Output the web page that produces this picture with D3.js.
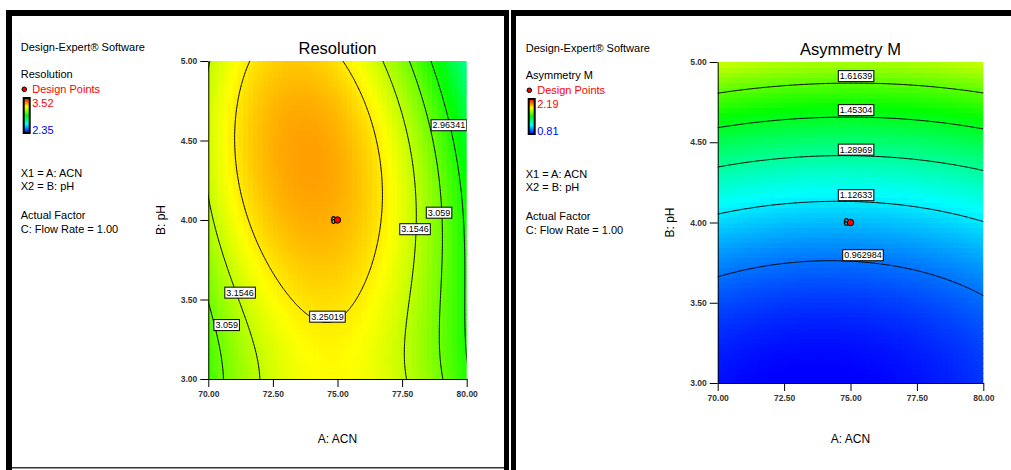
<!DOCTYPE html>
<html>
<head>
<meta charset="utf-8">
<script src="https://cdn.jsdelivr.net/npm/d3@7"></script>
<style>
body { margin: 0; background: #fff; }
text { font-family: Arial, "Liberation Sans", sans-serif; }
</style>
</head>
<body>
<div id="chart"></div>
<script>
// factor ranges / ticks
var acnTicks = [70, 72.5, 75, 77.5, 80];
var phTicks = [3, 3.5, 4, 4.5, 5];

// Resolution (coded u = (A-75)/5, v = pH-4)
var resLevels = [2.96341, 3.059, 3.1546, 3.25019];
var resRange = [2.35, 3.52];
var resPeakV = 0.375;                                   // v of the optimum
var resRidge = [3.338, 0, -0.1275, -0.0140, 0.0276];    // ridge value, powers of (v - resPeakV)
var resShift = [-0.176, -0.1428];                       // u of the ridge vs v
var resCurve = [0.27, 0.03];                            // curvature in u vs v
var resLabelText = ["2.96341", "3.059", "3.1546", "3.25019", "3.1546", "3.059"];
var resLabelA = [79.31, 78.93, 78.0, 74.61, 71.23, 70.71];
var resLabelPH = [4.597, 4.047, 3.943, 3.393, 3.544, 3.34];

// Asymmetry M
var asymLevels = [0.962984, 1.12633, 1.28969, 1.45304, 1.61639];
var asymRange = [0.81, 2.19];
var asymCoef = [1.0624, 0.0115, 0.461, -0.015, 0.05, 0.2036]; // b0, u, v, uv, u2, v2
var asymLabelText = ["0.962984", "1.12633", "1.28969", "1.45304", "1.61639"];
var asymLabelA = [75.47, 75.21, 75.21, 75.21, 75.21];
var asymLabelPH = [3.797, 4.171, 4.455, 4.701, 4.913];

// design points
var designA = [75], designPH = [4], designCount = ["6"];

var svg = d3.select("#chart").append("svg").attr("width", 1011).attr("height", 470);

function resModel(A, pH) {
  var u = (A - 75) / 5, v = pH - 4, w = v - resPeakV;
  var peak = 0;
  resRidge.forEach(function(c, k) { peak += c * Math.pow(w, k); });
  var u0 = resShift[0] + resShift[1] * v;
  var a = resCurve[0] + resCurve[1] * v;
  return peak - a * (u - u0) * (u - u0);
}
function asymModel(A, pH) {
  var u = (A - 75) / 5, v = pH - 4, c = asymCoef;
  return c[0] + c[1] * u + c[2] * v + c[3] * u * v + c[4] * u * u + c[5] * v * v;
}

function ramp(lo, hi) {
  var stops = ["#0000ff", "#00ffff", "#00ff00", "#ffff00", "#ff0000"];
  return d3.scaleLinear()
    .domain(stops.map(function(d, i) { return lo + (hi - lo) * i / 4; }))
    .range(stops).clamp(true);
}

// panel frames
svg.append("rect").attr("x", 6).attr("y", 10).attr("width", 503).attr("height", 6).attr("fill", "#000");
svg.append("rect").attr("x", 6).attr("y", 10).attr("width", 6).attr("height", 460).attr("fill", "#000");
svg.append("rect").attr("x", 504).attr("y", 10).attr("width", 5).attr("height", 460).attr("fill", "#000");
svg.append("line").attr("x1", 12).attr("x2", 504).attr("y1", 467.8).attr("y2", 467.8).attr("stroke", "#333").attr("stroke-width", 1.5);
svg.append("rect").attr("x", 511).attr("y", 10).attr("width", 500).attr("height", 6).attr("fill", "#000");
svg.append("rect").attr("x", 511).attr("y", 10).attr("width", 5).attr("height", 460).attr("fill", "#000");

function drawPanel(p) {
  var x = d3.scaleLinear().domain([70, 80]).range(p.xr);
  var y = d3.scaleLinear().domain([3, 5]).range(p.yr);
  var color = ramp(p.range[0], p.range[1]);
  var clipId = "clip-" + p.id;

  svg.append("clipPath").attr("id", clipId).append("rect")
    .attr("x", p.xr[0]).attr("y", p.yr[1])
    .attr("width", p.xr[1] - p.xr[0]).attr("height", p.yr[0] - p.yr[1]);

  var g = svg.append("g").attr("clip-path", "url(#" + clipId + ")");

  // coloured cells
  var nx = 52, ny = 64, dA = 10 / nx, dP = 2 / ny, cells = [];
  for (var j = 0; j < ny; j++) for (var i = 0; i < nx; i++) cells.push([i, j]);
  g.append("g").selectAll("rect").data(cells).enter().append("rect")
    .attr("x", function(d) { return x(70 + d[0] * dA); })
    .attr("y", function(d) { return y(3 + (d[1] + 1) * dP); })
    .attr("width", x(70 + dA) - x(70) + 0.7)
    .attr("height", y(3) - y(3 + dP) + 0.7)
    .attr("shape-rendering", "crispEdges")
    .attr("fill", function(d) { return color(p.model(70 + (d[0] + 0.5) * dA, 3 + (d[1] + 0.5) * dP)); });

  // contour lines (grid a bit larger than the plot, then clipped)
  var gx = 240, gy = 240, A0 = 69.5, P0 = 2.9, sA = 11 / (gx - 1), sP = 2.2 / (gy - 1);
  var vals = new Array(gx * gy);
  for (var jj = 0; jj < gy; jj++)
    for (var ii = 0; ii < gx; ii++)
      vals[jj * gx + ii] = p.model(A0 + ii * sA, P0 + jj * sP);
  var contours = d3.contours().size([gx, gy]).thresholds(p.levels)(vals);
  var proj = d3.geoTransform({ point: function(px, py) {
    this.stream.point(x(A0 + (px - 0.5) * sA), y(P0 + (py - 0.5) * sP));
  }});
  g.append("g").selectAll("path").data(contours).enter().append("path")
    .attr("d", d3.geoPath(proj))
    .attr("fill", "none").attr("stroke", "#000").attr("stroke-width", 1);

  // contour labels
  var lab = g.append("g").selectAll("g").data(p.labText).enter().append("g")
    .attr("transform", function(d, i) { return "translate(" + x(p.labA[i]) + "," + y(p.labPH[i]) + ")"; });
  lab.append("text").text(function(d) { return d; })
    .attr("text-anchor", "middle").attr("dy", "0.35em")
    .style("font-size", "9px").attr("fill", "#000");
  lab.each(function() {
    var b = d3.select(this).select("text").node().getBBox();
    d3.select(this).insert("rect", "text")
      .attr("x", b.x - 1.5).attr("y", b.y - 0.5)
      .attr("width", b.width + 3).attr("height", b.height + 1)
      .attr("fill", "#fff").attr("stroke", "#000").attr("stroke-width", 1);
  });

  // design points
  svg.append("g").selectAll("text").data(designA).enter().append("text")
    .attr("x", function(d) { return x(d) - 1.5; })
    .attr("y", function(d, i) { return y(designPH[i]); })
    .attr("dy", "0.35em").attr("text-anchor", "end")
    .style("font-size", "10px").style("font-weight", "bold")
    .text(function(d, i) { return designCount[i]; });
  svg.append("g").selectAll("circle").data(designA).enter().append("circle")
    .attr("cx", function(d) { return x(d); })
    .attr("cy", function(d, i) { return y(designPH[i]); })
    .attr("r", 3.2).attr("fill", "#ff0000").attr("stroke", "#000").attr("stroke-width", 1);

  // axes
  var ax = svg.append("g").attr("transform", "translate(0," + p.yr[0] + ")")
    .call(d3.axisBottom(x).tickValues(acnTicks).tickFormat(d3.format(".2f"))
      .tickSize(8).tickSizeOuter(0).tickPadding(4));
  var ay = svg.append("g").attr("transform", "translate(" + p.xr[0] + ",0)")
    .call(d3.axisLeft(y).tickValues(phTicks).tickFormat(d3.format(".2f"))
      .tickSize(8).tickSizeOuter(0).tickPadding(3));
  [ax, ay].forEach(function(a) {
    a.attr("font-family", "Arial, 'Liberation Sans', sans-serif").attr("font-size", 8.5);
    a.selectAll("text").attr("fill", "#333").style("font-weight", "bold");
    a.select(".domain").attr("stroke", "#000");
  });

  // titles
  var cx = (p.xr[0] + p.xr[1]) / 2;
  svg.append("text").attr("x", cx).attr("y", p.titleY).attr("text-anchor", "middle")
    .style("font-size", "16.5px").text(p.title);
  svg.append("text").attr("x", cx).attr("y", 443).attr("text-anchor", "middle")
    .style("font-size", "12px").text("A: ACN");
  svg.append("text").attr("transform", "translate(" + p.yLabX + "," + ((p.yr[0] + p.yr[1]) / 2) + ") rotate(-90)")
    .attr("text-anchor", "middle").style("font-size", "12px").text("B: pH");

  // legend
  var L = svg.append("g").attr("transform", "translate(" + p.lx + "," + p.ly + ")").style("font-size", "11px");
  L.append("text").attr("y", 51).text("Design-Expert® Software");
  L.append("text").attr("y", 78).text(p.response);
  L.append("circle").attr("cx", 3.6).attr("cy", 89.3).attr("r", 2.3)
    .attr("fill", "#ff0000").attr("stroke", "#000").attr("stroke-width", 1);
  L.append("text").attr("x", 11.5).attr("y", 93).attr("fill", "#ff0000").text("Design Points");
  var gid = "grad-" + p.id;
  var grad = svg.append("defs").append("linearGradient").attr("id", gid)
    .attr("x1", 0).attr("y1", 1).attr("x2", 0).attr("y2", 0);
  color.domain().forEach(function(v, i) {
    grad.append("stop").attr("offset", (i / 4 * 100) + "%").attr("stop-color", color.range()[i]);
  });
  L.append("rect").attr("x", 3).attr("y", 98).attr("width", 6).attr("height", 35)
    .attr("fill", "url(#" + gid + ")").attr("stroke", "#000").attr("stroke-width", 2);
  L.append("text").attr("x", 11.5).attr("y", 106.5).attr("fill", "#ff0000").text(p.range[1].toFixed(2));
  L.append("text").attr("x", 11.5).attr("y", 134).attr("fill", "#0000ff").text(p.range[0].toFixed(2));
  L.append("text").attr("y", 177).text("X1 = A: ACN");
  L.append("text").attr("y", 190).text("X2 = B: pH");
  L.append("text").attr("y", 219).text("Actual Factor");
  L.append("text").attr("y", 233).text("C: Flow Rate = 1.00");
}

drawPanel({
  id: "res", xr: [208.3, 466.7], yr: [379, 61], title: "Resolution", titleY: 54,
  response: "Resolution", range: resRange, levels: resLevels, model: resModel,
  labText: resLabelText, labA: resLabelA, labPH: resLabelPH,
  yLabX: 165, lx: 20.7, ly: 0
});
drawPanel({
  id: "asym", xr: [717.7, 983.3], yr: [383, 62], title: "Asymmetry M", titleY: 55,
  response: "Asymmetry M", range: asymRange, levels: asymLevels, model: asymModel,
  labText: asymLabelText, labA: asymLabelA, labPH: asymLabelPH,
  yLabX: 674, lx: 525.7, ly: 1
});
</script>
</body>
</html>
